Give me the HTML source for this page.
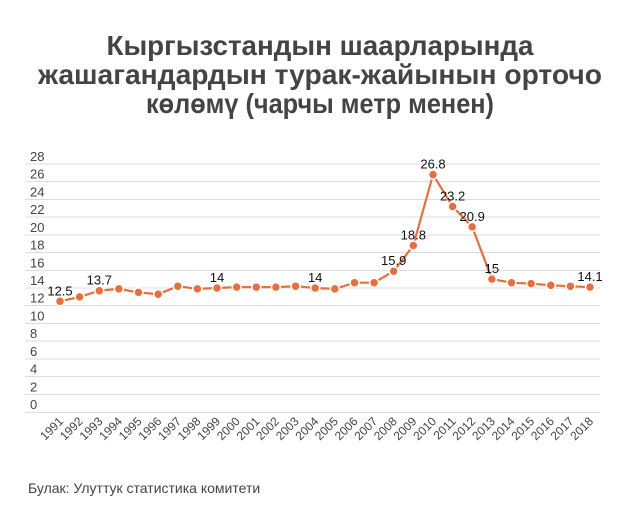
<!DOCTYPE html>
<html><head><meta charset="utf-8"><style>
html,body{margin:0;padding:0;background:#fff;}
svg{display:block;font-family:"Liberation Sans",sans-serif;}
</style></head><body>
<svg width="640" height="529" viewBox="0 0 640 529" xmlns="http://www.w3.org/2000/svg">
<g font-weight="bold" font-size="28" fill="#444" text-anchor="middle">
<text x="320" y="55" textLength="427" lengthAdjust="spacingAndGlyphs">Кыргызстандын шаарларында</text>
<text x="320" y="84" textLength="564" lengthAdjust="spacingAndGlyphs">жашагандардын турак-жайынын орточо</text>
<text x="320" y="113" textLength="348" lengthAdjust="spacingAndGlyphs">көлөмү (чарчы метр менен)</text>
</g>
<g stroke="#ddd" stroke-width="1">
<line x1="25" x2="600" y1="412.5" y2="412.5"/>
<line x1="25" x2="600" y1="394.5" y2="394.5"/>
<line x1="25" x2="600" y1="376.5" y2="376.5"/>
<line x1="25" x2="600" y1="359" y2="359"/>
<line x1="25" x2="600" y1="341" y2="341"/>
<line x1="25" x2="600" y1="323.5" y2="323.5"/>
<line x1="25" x2="600" y1="305.5" y2="305.5"/>
<line x1="25" x2="600" y1="288" y2="288"/>
<line x1="25" x2="600" y1="270.5" y2="270.5"/>
<line x1="25" x2="600" y1="252.5" y2="252.5"/>
<line x1="25" x2="600" y1="235" y2="235"/>
<line x1="25" x2="600" y1="217" y2="217"/>
<line x1="25" x2="600" y1="199.5" y2="199.5"/>
<line x1="25" x2="600" y1="181.5" y2="181.5"/>
<line x1="25" x2="600" y1="164" y2="164"/>
</g>
<g font-size="13" fill="#444">
<text x="30" y="409">0</text>
<text x="30" y="391.3">2</text>
<text x="30" y="373.6">4</text>
<text x="30" y="355.9">6</text>
<text x="30" y="338.1">8</text>
<text x="30" y="320.4">10</text>
<text x="30" y="302.7">12</text>
<text x="30" y="285">14</text>
<text x="30" y="267.3">16</text>
<text x="30" y="249.6">18</text>
<text x="30" y="231.9">20</text>
<text x="30" y="214.1">22</text>
<text x="30" y="196.4">24</text>
<text x="30" y="178.7">26</text>
<text x="30" y="161">28</text>
</g>
<polyline fill="none" stroke="#e5703f" stroke-width="2.2" points="60,301.3 79.6,296.9 99.3,290.7 118.9,288.9 138.5,292.4 158.2,294.2 177.8,286.2 197.4,288.9 217,288 236.7,287.1 256.3,287.1 275.9,287.1 295.6,286.2 315.2,288 334.8,288.9 354.5,282.7 374.1,282.7 393.7,271.2 413.3,245.5 433,174.6 452.6,206.5 472.2,226.9 491.9,279.1 511.5,282.7 531.1,283.6 550.8,285.3 570.4,286.2 590,287.1"/>
<g fill="#e5703f" stroke="#fff" stroke-width="1.5">
<circle cx="60" cy="301.3" r="4.5"/><circle cx="79.6" cy="296.9" r="4.5"/><circle cx="99.3" cy="290.7" r="4.5"/><circle cx="118.9" cy="288.9" r="4.5"/><circle cx="138.5" cy="292.4" r="4.5"/><circle cx="158.2" cy="294.2" r="4.5"/><circle cx="177.8" cy="286.2" r="4.5"/><circle cx="197.4" cy="288.9" r="4.5"/><circle cx="217" cy="288" r="4.5"/><circle cx="236.7" cy="287.1" r="4.5"/><circle cx="256.3" cy="287.1" r="4.5"/><circle cx="275.9" cy="287.1" r="4.5"/><circle cx="295.6" cy="286.2" r="4.5"/><circle cx="315.2" cy="288" r="4.5"/><circle cx="334.8" cy="288.9" r="4.5"/><circle cx="354.5" cy="282.7" r="4.5"/><circle cx="374.1" cy="282.7" r="4.5"/><circle cx="393.7" cy="271.2" r="4.5"/><circle cx="413.3" cy="245.5" r="4.5"/><circle cx="433" cy="174.6" r="4.5"/><circle cx="452.6" cy="206.5" r="4.5"/><circle cx="472.2" cy="226.9" r="4.5"/><circle cx="491.9" cy="279.1" r="4.5"/><circle cx="511.5" cy="282.7" r="4.5"/><circle cx="531.1" cy="283.6" r="4.5"/><circle cx="550.8" cy="285.3" r="4.5"/><circle cx="570.4" cy="286.2" r="4.5"/><circle cx="590" cy="287.1" r="4.5"/>
</g>
<g font-size="13" fill="#111" text-anchor="middle">
<text x="60" y="295.3">12.5</text>
<text x="99.3" y="284.7">13.7</text>
<text x="217" y="282">14</text>
<text x="315.2" y="282">14</text>
<text x="393.7" y="265.2">15.9</text>
<text x="413.3" y="239.5">18.8</text>
<text x="433" y="168.6">26.8</text>
<text x="452.6" y="200.5">23.2</text>
<text x="472.2" y="220.9">20.9</text>
<text x="491.9" y="273.1">15</text>
<text x="590" y="281.1">14.1</text>
</g>
<g font-size="12" fill="#444" text-anchor="end">
<text x="64" y="422" transform="rotate(-45 64 422)">1991</text>
<text x="83.6" y="422" transform="rotate(-45 83.6 422)">1992</text>
<text x="103.3" y="422" transform="rotate(-45 103.3 422)">1993</text>
<text x="122.9" y="422" transform="rotate(-45 122.9 422)">1994</text>
<text x="142.5" y="422" transform="rotate(-45 142.5 422)">1995</text>
<text x="162.2" y="422" transform="rotate(-45 162.2 422)">1996</text>
<text x="181.8" y="422" transform="rotate(-45 181.8 422)">1997</text>
<text x="201.4" y="422" transform="rotate(-45 201.4 422)">1998</text>
<text x="221" y="422" transform="rotate(-45 221 422)">1999</text>
<text x="240.7" y="422" transform="rotate(-45 240.7 422)">2000</text>
<text x="260.3" y="422" transform="rotate(-45 260.3 422)">2001</text>
<text x="279.9" y="422" transform="rotate(-45 279.9 422)">2002</text>
<text x="299.6" y="422" transform="rotate(-45 299.6 422)">2003</text>
<text x="319.2" y="422" transform="rotate(-45 319.2 422)">2004</text>
<text x="338.8" y="422" transform="rotate(-45 338.8 422)">2005</text>
<text x="358.5" y="422" transform="rotate(-45 358.5 422)">2006</text>
<text x="378.1" y="422" transform="rotate(-45 378.1 422)">2007</text>
<text x="397.7" y="422" transform="rotate(-45 397.7 422)">2008</text>
<text x="417.3" y="422" transform="rotate(-45 417.3 422)">2009</text>
<text x="437" y="422" transform="rotate(-45 437 422)">2010</text>
<text x="456.6" y="422" transform="rotate(-45 456.6 422)">2011</text>
<text x="476.2" y="422" transform="rotate(-45 476.2 422)">2012</text>
<text x="495.9" y="422" transform="rotate(-45 495.9 422)">2013</text>
<text x="515.5" y="422" transform="rotate(-45 515.5 422)">2014</text>
<text x="535.1" y="422" transform="rotate(-45 535.1 422)">2015</text>
<text x="554.8" y="422" transform="rotate(-45 554.8 422)">2016</text>
<text x="574.4" y="422" transform="rotate(-45 574.4 422)">2017</text>
<text x="594" y="422" transform="rotate(-45 594 422)">2018</text>
</g>
<text x="28" y="493" font-size="14" fill="#444">Булак: Улуттук статистика комитети</text>
</svg>
</body></html>
